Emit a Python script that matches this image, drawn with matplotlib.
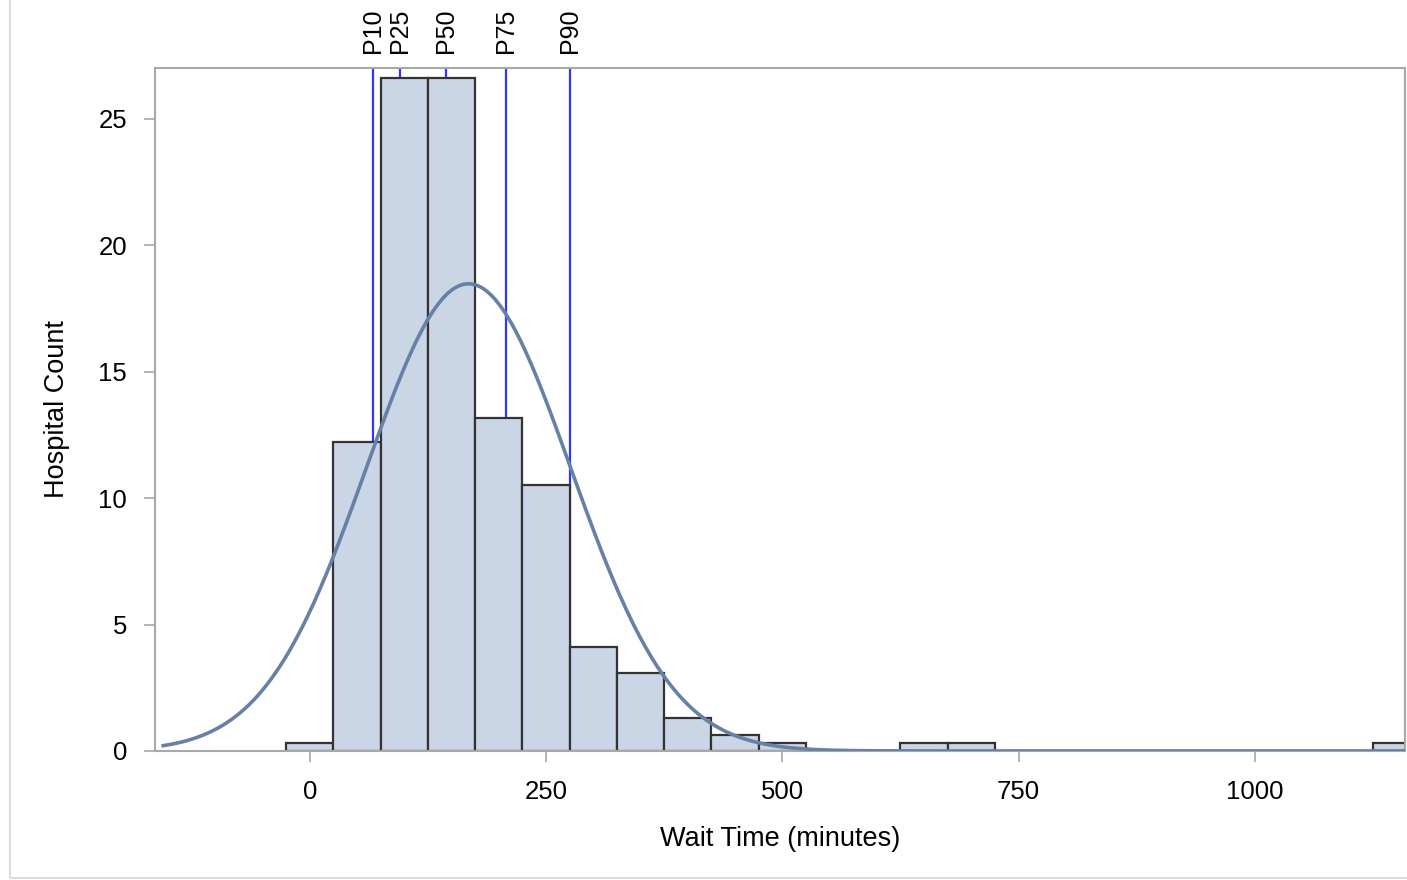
import numpy as np
import matplotlib
matplotlib.use("Agg")
import matplotlib.pyplot as plt
from matplotlib.patches import Rectangle

# ===== DADOS =====
bin_centers = [0, 50, 100, 150, 200, 250, 300, 350, 400, 450, 500, 550, 600,
               650, 700, 750, 800, 850, 900, 950, 1000, 1050, 1100, 1150]
bin_heights = [0.33, 12.2, 26.6, 26.6, 13.15, 10.5, 4.1, 3.1, 1.3, 0.63, 0.33, 0, 0,
               0.33, 0.33, 0, 0, 0, 0, 0, 0, 0, 0, 0.33]
bin_width = 50

# curva normal ajustada (media, desvio)
normal_mean = 168.0
normal_sd = 108.0
curve_range = (-155, 1160)

pct_labels = ["P10", "P25", "P50", "P75", "P90"]
pct_values = [67, 95, 144, 208, 275]

x_ticks = [0, 250, 500, 750, 1000]
y_ticks = [0, 5, 10, 15, 20, 25]

plt.rcParams["font.family"] = ["Liberation Sans", "DejaVu Sans"]

fig = plt.figure(figsize=(14.07, 8.8), dpi=100)
ax = fig.add_axes([0.110, 0.1466, 0.8886, 0.7761])

# linhas de percentis (atras das barras)
for lab, v in zip(pct_labels, pct_values):
    ax.axvline(v, color="#3333ff", lw=1.6, zorder=1)
    ax.text(v, 1.022, lab, transform=ax.get_xaxis_transform(), rotation=90,
            ha="center", va="bottom", fontsize=18, color="black")

ax.bar(bin_centers, bin_heights, width=bin_width, color="#cad5e5",
       edgecolor="#333333", linewidth=1.6, zorder=2)

xs = np.linspace(curve_range[0], curve_range[1], 600)
ys = 100 * bin_width / (normal_sd * np.sqrt(2 * np.pi)) * np.exp(-0.5 * ((xs - normal_mean) / normal_sd) ** 2)
ax.plot(xs, ys, color="#6680a6", lw=2.6, zorder=3)

ax.set_xlim(-164, 1159)
ax.set_ylim(0, 27)
ax.set_xticks(x_ticks)
ax.set_yticks(y_ticks)
ax.tick_params(axis="both", direction="out", length=8, width=1.2, color="#a8a8a8",
               labelsize=18.5, pad=13)
ax.tick_params(axis="y", pad=12)
for s in ax.spines.values():
    s.set_color("#a8a8a8")
    s.set_linewidth(1.5)

ax.set_xlabel("Wait Time (minutes)", fontsize=19.5, labelpad=16)
ax.set_ylabel("Hospital Count", fontsize=19.5, labelpad=20)

# borda clara da figura
fig.patches.append(Rectangle((0.007, 0.002), 0.995, 1.1, transform=fig.transFigure,
                             fill=False, edgecolor="#dcdcdc", lw=1.5))

fig.savefig("out.png", dpi=100)
